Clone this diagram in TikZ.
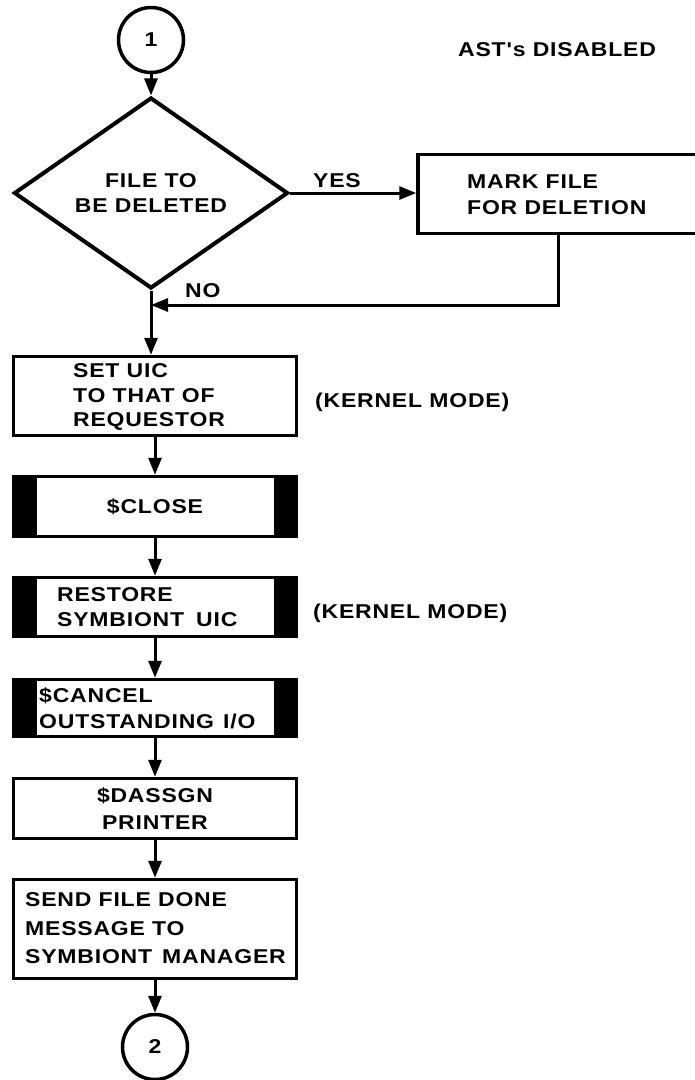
\documentclass[tikz,border=0pt]{standalone}
\usepackage{fontspec}
\usetikzlibrary{arrows.meta,shapes.geometric}
\newfontfamily\dfont{Liberation Sans}[FakeStretch=1.15,LetterSpace=4]
\newcommand{\dsize}[1]{\dfont\bfseries\fontsize{20}{#1}\selectfont}
\begin{document}
\begin{tikzpicture}[x=1pt,y=-1pt,
  every node/.style={font=\dsize{25}},
  box/.style={draw, line width=3.5pt, rectangle, minimum width=283pt, inner sep=0pt},
  svc/.style={box, path picture={
      \fill[black] (path picture bounding box.south west) rectangle ([xshift=23pt]path picture bounding box.north west);
      \fill[black] (path picture bounding box.south east) rectangle ([xshift=-23pt]path picture bounding box.north east);}},
  conn/.style={line width=3pt, -{Triangle[length=17pt,width=13pt]}},
  txt/.style={inner sep=0pt, align=left},
  conncircle/.style={draw, circle, line width=3.5pt, minimum size=65pt, inner sep=0pt}
]
\useasboundingbox (0,0) rectangle (695,1080);

% shapes
\node[conncircle] (c1) at (151,40) {1};
\node[draw, diamond, line width=4pt, minimum width=274pt, minimum height=153pt,
      inner sep=0pt, align=center] (dec) at (151,193) {FILE TO\\BE DELETED};
\node[box, minimum width=280pt, minimum height=79pt] (mark) at (558,194) {};
\node[box, minimum height=79pt] (b1) at (155,396) {};
\node[svc, minimum height=60pt] (b2) at (155,506.5) {\$CLOSE};
\node[svc, minimum height=59pt] (b3) at (155,607) {};
\node[svc, minimum height=57pt] (b4) at (155,708) {};
\node[box, minimum height=60pt, align=center, font=\dsize{27}] (b5) at (155,808.5) {\$DASSGN\\PRINTER};
\node[box, minimum height=99pt] (b6) at (155,929) {};
\node[conncircle] (c2) at (155,1047) {2};
\coordinate (join) at (151,305);

% texts inside boxes
\node[txt, anchor=north west, font=\dsize{26}] (markt) at (467,174.7) {MARK FILE\\FOR DELETION};
\node[txt, anchor=north west, font=\dsize{24.5}] (b1t) at (73,363.7) {SET UIC\\TO THAT OF\\REQUESTOR};
\node[txt, anchor=north west, font=\dsize{25}] (b3t) at (57,587.7) {RESTORE\\SYMBIONT\hspace{12pt}UIC};
\node[txt, anchor=north west, font=\dsize{26}] (b4t) at (39,687.7) {\$CANCEL\\OUTSTANDING\hspace{9pt}I/O};
\node[txt, anchor=north west, font=\dsize{28.5}] (b6t) at (25,892.7) {SEND FILE DONE\\MESSAGE TO\\SYMBIONT\hspace{10pt}MANAGER};

% free labels
\node[txt, anchor=base west] (ast) at (458,56) {AST's DISABLED};
\node[txt, anchor=base west] (k1) at (315,407) {(KERNEL MODE)};
\node[txt, anchor=base west] (k2) at (313,618) {(KERNEL MODE)};
\node[txt, anchor=base west] (yes) at (313,187) {YES};
\node[txt, anchor=base west] (no) at (185,297) {NO};

% connectors
\draw[conn] (c1) -- (dec);
\draw[conn] (dec.east) -- (dec.east -| mark.west);
\draw[conn] (mark.south) |- (join);
\draw[conn] (dec.south) -- (dec.south |- b1.north);
\draw[conn] (b1.south) -- (b2.north);
\draw[conn] (b2.south) -- (b3.north);
\draw[conn] (b3.south) -- (b4.north);
\draw[conn] (b4.south) -- (b5.north);
\draw[conn] (b5.south) -- (b6.north);
\draw[conn] (b6.south) -- (c2.north);
\end{tikzpicture}
\end{document}
